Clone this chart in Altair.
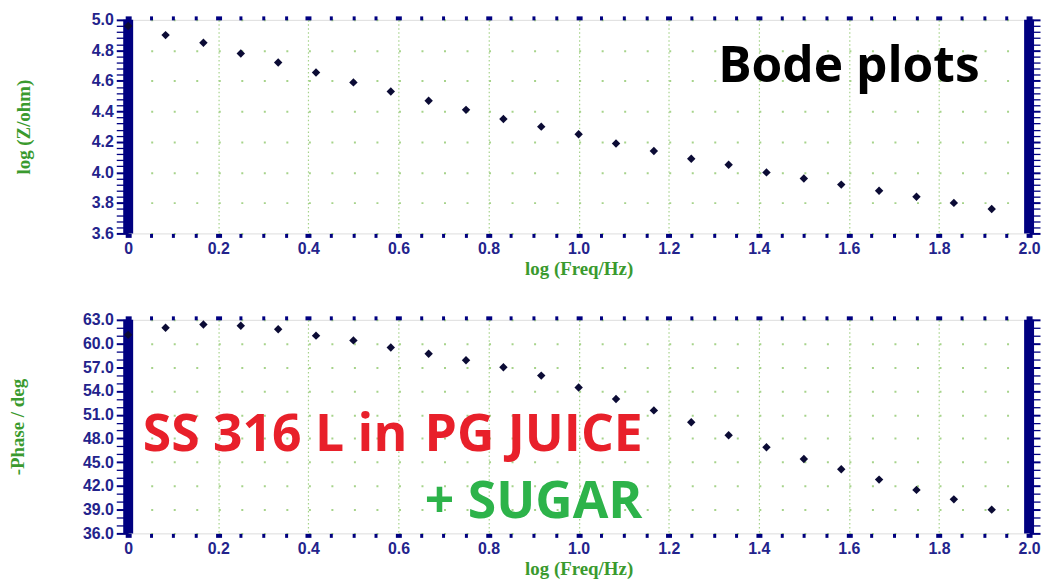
import altair as alt
import numpy as np
import pandas as pd

# ---- data ----
log_freq = [0.0, 0.083, 0.167, 0.25, 0.333, 0.417, 0.5, 0.583, 0.667, 0.75, 0.833, 0.917,
            1.0, 1.083, 1.167, 1.25, 1.333, 1.417, 1.5, 1.583, 1.667, 1.75, 1.833, 1.917]
log_z = [4.96, 4.90, 4.85, 4.78, 4.72, 4.655, 4.59, 4.53, 4.47, 4.41, 4.35, 4.30,
         4.25, 4.19, 4.14, 4.09, 4.05, 4.00, 3.96, 3.92, 3.88, 3.84, 3.80, 3.76]
neg_phase = [61.1, 62.0, 62.4, 62.25, 61.8, 61.0, 60.4, 59.5, 58.7, 57.9, 57.0, 55.95,
             54.45, 53.0, 51.55, 50.05, 48.4, 46.9, 45.4, 44.1, 42.8, 41.5, 40.3, 39.0]

x_domain = [0, 2]
z_domain = [3.6, 5.0]
phase_domain = [36, 63]

x_tick_values = [round(v, 2) for v in np.arange(0, 2.0001, 0.05)]
z_tick_values = [round(v, 2) for v in np.arange(3.6, 5.0001, 0.04)]
phase_tick_values = [float(v) for v in range(36, 64)]

top_text = ["Bode plots"]
bottom_red = ["SS 316 L in", "PG JUICE"]
bottom_green = ["+ SUGAR"]

# ---- style ----
NAVY = "#000080"
LABEL = "#23238c"
TITLE_GREEN = "#3a9a2e"
GRID = "#a6d38a"
POINT = "#0b0b35"

df_z = pd.DataFrame({"f": log_freq, "v": log_z})
df_p = pd.DataFrame({"f": log_freq, "v": neg_phase})
edges = pd.DataFrame({"f": x_domain})

x_major = "abs(datum.value*5 - round(datum.value*5)) < 0.001"


def x_axis_bottom(title):
    return alt.Axis(
        values=x_tick_values, orient="bottom", title=title,
        labelExpr=f"{x_major} ? (datum.value == 0 ? '0' : format(datum.value, '.1f')) : ''",
        labelOverlap=False, labelFont="Liberation Sans", labelFontWeight="bold",
        labelFontSize=16, labelColor=LABEL, labelPadding=3, labelFlush=False,
        tickColor=NAVY, tickSize=4,
        tickWidth={"condition": {"test": x_major, "value": 6}, "value": 3},
        grid=True, gridColor=GRID, gridDash=[1.5, 2.5], gridWidth=1.2,
        gridOpacity={"condition": {"test": x_major, "value": 1}, "value": 0},
        domain=False, minExtent=0,
        titleFont="Liberation Serif", titleFontWeight="bold", titleFontSize=19,
        titleColor=TITLE_GREEN, titlePadding=3,
    )


def x_axis_top():
    return alt.Axis(
        values=x_tick_values, orient="top", title=None, labels=False,
        tickColor=NAVY, tickSize=4, minExtent=0,
        tickWidth={"condition": {"test": x_major, "value": 6}, "value": 3},
        grid=False, domain=False,
    )


def y_axis_left(values, major, title, title_x, height):
    return alt.Axis(
        values=values, orient="left", title=title,
        labelExpr=f"{major} ? format(datum.value, '.1f') : ''",
        labelOverlap=False, labelFont="Liberation Sans", labelFontWeight="bold",
        labelFontSize=16, labelColor=LABEL, labelPadding=3, labelFlush=False,
        tickColor=NAVY, tickSize=12, minExtent=0,
        tickWidth={"condition": {"test": major, "value": 2}, "value": 1.3},
        grid=True, gridColor=GRID, gridWidth=2, gridDash=[2, 20.675],
        gridOpacity={"condition": {"test": major, "value": 1}, "value": 0},
        domain=False,
        titleFont="Liberation Serif", titleFontWeight="bold", titleFontSize=19,
        titleColor=TITLE_GREEN, titleX=title_x, titleY=height / 2,
    )


def y_axis_right(values, major):
    return alt.Axis(
        values=values, orient="right", title=None, labels=False,
        tickColor=NAVY, tickSize=11, minExtent=0,
        tickWidth={"condition": {"test": major, "value": 2}, "value": 1.3},
        grid=False, domain=False,
    )


W, H = 907, 215


def panel(df, ydomain, yvalues, major, ytitle, title_x, texts):
    xs = alt.Scale(domain=x_domain, nice=False, zero=False)
    ys = alt.Scale(domain=ydomain, nice=False, zero=False)
    bars = alt.Chart(edges).mark_rule(color=NAVY, strokeWidth=10).encode(
        x=alt.X("f:Q", scale=xs, axis=None))
    pts = alt.Chart(df).mark_point(shape="diamond", filled=True, size=72,
                                   color=POINT, opacity=1).encode(
        x=alt.X("f:Q", scale=xs, axis=x_axis_bottom("log (Freq/Hz)")),
        y=alt.Y("v:Q", scale=ys, axis=y_axis_left(yvalues, major, ytitle, title_x, H)))
    ghost = alt.Chart(df).mark_point(opacity=0).encode(
        x=alt.X("f:Q", scale=xs, axis=x_axis_top()),
        y=alt.Y("v:Q", scale=ys, axis=y_axis_right(yvalues, major)))
    layers = [bars, pts, ghost] + texts
    return alt.layer(*layers).resolve_axis(x="independent", y="independent").properties(
        width=W, height=H)


def text_layer(labels, xs_, ys_, color, size):
    d = pd.DataFrame({"f": xs_, "v": ys_, "t": labels})
    return alt.Chart(d).mark_text(font="Open Sans", fontWeight="bold", fontSize=size,
                                  color=color, align="center", baseline="alphabetic").encode(
        x=alt.X("f:Q", axis=None), y=alt.Y("v:Q", axis=None), text="t:N")


top_major = "abs(datum.value*5 - round(datum.value*5)) < 0.001"
bot_major = "abs(datum.value/3 - round(datum.value/3)) < 0.001"

top = panel(df_z, z_domain, z_tick_values, top_major, "log (Z/ohm)", -95,
            [text_layer(top_text, [1.60], [4.59], "#000000", 50)])
bottom = panel(df_p, phase_domain, phase_tick_values, bot_major, "-Phase / deg", -101,
               [text_layer(bottom_red, [0.326, 0.90], [46.47, 46.47], "#e8202a", 52),
                text_layer(bottom_green, [0.90], [37.95], "#2db34a", 52)])

chart = alt.vconcat(top, bottom, spacing=32).properties(
    padding={"left": 0, "top": 1, "right": 0, "bottom": 0}
).configure_view(stroke=NAVY, strokeWidth=2).configure(background="white")

chart.save("out.html", embed_options={"renderer": "svg", "actions": False})
